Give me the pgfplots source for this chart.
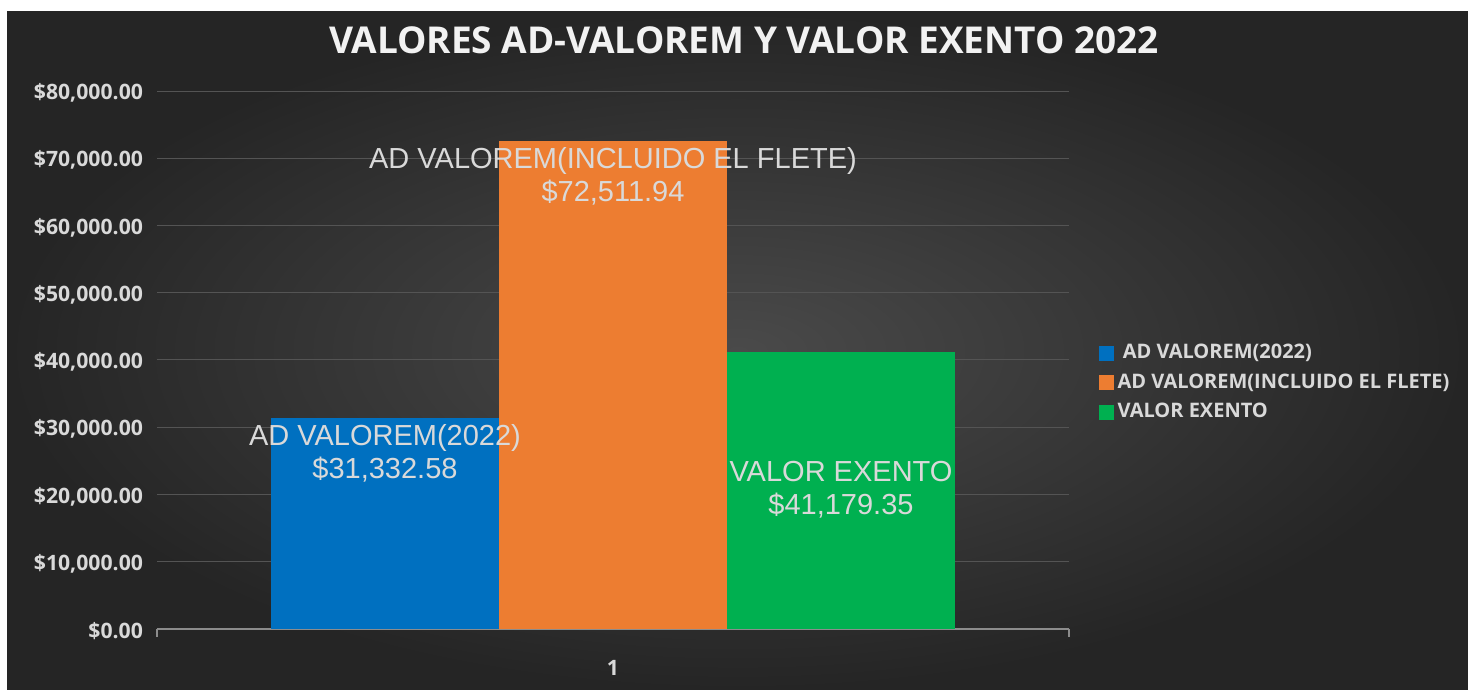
\documentclass[border=0pt]{standalone}
\usepackage{fontspec}
\setmainfont{Open Sans}
\newfontfamily\arialfont{Liberation Sans}
\usepackage{pgfplots}
\pgfplotsset{compat=1.18}
\definecolor{bgin}{HTML}{4A4A4A}
\definecolor{bgout}{HTML}{252525}
\definecolor{cblue}{HTML}{0070C0}
\definecolor{corange}{HTML}{ED7D31}
\definecolor{cgreen}{HTML}{00B050}
\definecolor{txtgray}{HTML}{D9D9D9}
\definecolor{gridgray}{HTML}{545454}
\definecolor{axisgray}{HTML}{8C8C8C}

\begin{document}
\begin{tikzpicture}
% page 1468x690 px, 1px = 0.5pt
\fill[white] (0,0) rectangle (734pt,345pt);
\shade[inner color=bgin, outer color=bgout] (3.5pt,0) rectangle (734pt,339pt);
\node[font=\bfseries\fontsize{18.5}{22}\selectfont, text=white!95!black] at (372pt,325pt)
  {VALORES AD-VALOREM Y VALOR EXENTO 2022};
\begin{axis}[
    at={(78.5pt,30.5pt)}, anchor=south west,
    scale only axis, width=456pt, height=269pt,
    xmin=0.5, xmax=1.5, ymin=0, ymax=80000,
    ybar, bar width=0.25,
    axis x line*=bottom, axis y line*=left,
    y axis line style={draw=none},
    x axis line style={draw=axisgray, line width=1.3pt},
    xtick={1}, xtick style={draw=none},
    extra x ticks={0.5,1.5}, extra x tick labels={},
    extra x tick style={xtick style={draw=axisgray, line width=1.3pt},
        major tick length=4pt, tick align=outside},
    ytick distance=10000, ytick style={draw=none},
    scaled y ticks=false,
    ymajorgrids, grid style={draw=gridgray, line width=0.5pt},
    yticklabel={\$\pgfmathprintnumber[fixed, fixed zerofill, precision=2, 1000 sep={,}]{\tick}},
    /pgf/number format/assume math mode=true,
    tick label style={font=\bfseries\fontsize{10.6}{12}\selectfont, text=txtgray},
    yticklabel style={xshift=-3.5pt, yshift=-1pt},
    xticklabel style={yshift=-8pt},
    every node near coord/.append style={font=\arialfont\fontsize{14.5}{16.5}\selectfont,
        text=txtgray, align=center, anchor=center},
    legend style={at={(1.032,0.458)}, anchor=west, draw=none, fill=none,
        text=txtgray, font=\bfseries\fontsize{10}{15}\selectfont,
        row sep=2pt, inner sep=0pt},
    legend cell align=left,
    legend image code/.code={\fill[#1] (0pt,-3.75pt) rectangle (7.5pt,3.75pt);},
]
\addplot[fill=cblue, draw=none, bar shift=-0.25,
    nodes near coords={AD VALOREM(2022)\\\$\pgfmathprintnumber[fixed, fixed zerofill, precision=2, 1000 sep={,}]{\pgfplotspointmeta}},
    every node near coord/.append style={yshift=-17.75pt}]
    coordinates {(1,31332.58)};
\addplot[fill=corange, draw=none, bar shift=0,
    nodes near coords={AD VALOREM(INCLUIDO EL FLETE)\\\$\pgfmathprintnumber[fixed, fixed zerofill, precision=2, 1000 sep={,}]{\pgfplotspointmeta}},
    every node near coord/.append style={yshift=-17.5pt}]
    coordinates {(1,72511.94)};
\addplot[fill=cgreen, draw=none, bar shift=0.25,
    nodes near coords={VALOR EXENTO\\\$\pgfmathprintnumber[fixed, fixed zerofill, precision=2, 1000 sep={,}]{\pgfplotspointmeta}},
    every node near coord/.append style={yshift=-68.75pt}]
    coordinates {(1,41179.35)};
\legend{\ AD VALOREM(2022), AD VALOREM(INCLUIDO EL FLETE), VALOR EXENTO}
\end{axis}
\end{tikzpicture}
\end{document}
